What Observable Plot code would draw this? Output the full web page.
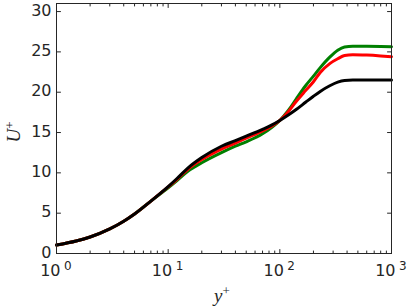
<!DOCTYPE html>
<html><head><meta charset="utf-8">
<script src="https://cdn.jsdelivr.net/npm/d3@7"></script>
<script src="https://cdn.jsdelivr.net/npm/@observablehq/plot@0.6"></script>
<style>
html,body{margin:0;padding:0;background:#fff;}
#chart{width:407px;height:307px;overflow:hidden;}
</style>
</head><body><div id="chart"></div>
<script>
const yPlus  = [1, 1.5, 2, 3, 4, 5, 7, 10, 12, 15, 20, 30, 40, 50, 70, 85, 100, 120, 140, 170, 200, 230, 280, 330, 380, 450, 600, 800, 1000];
const uBlack = [1.05, 1.55, 2.05, 3.05, 4.0, 4.9, 6.5, 8.3, 9.3, 10.6, 11.9, 13.3, 14.0, 14.55, 15.4, 15.95, 16.5, 17.2, 17.85, 18.75, 19.5, 20.1, 20.8, 21.25, 21.45, 21.5, 21.5, 21.5, 21.5];
const uRed   = [1.05, 1.55, 2.05, 3.05, 4.0, 4.9, 6.5, 8.25, 9.2, 10.45, 11.65, 12.95, 13.7, 14.3, 15.2, 15.8, 16.5, 17.65, 18.85, 20.2, 21.3, 22.45, 23.55, 24.15, 24.55, 24.65, 24.6, 24.5, 24.4];
const uGreen = [1.05, 1.55, 2.05, 3.05, 4.0, 4.9, 6.5, 8.15, 9.05, 10.2, 11.25, 12.5, 13.3, 13.85, 14.85, 15.65, 16.5, 17.8, 19.15, 20.8, 22.0, 23.05, 24.35, 25.2, 25.6, 25.7, 25.7, 25.68, 25.65];
const seriesNames  = ["green", "red", "black"];
const seriesColors = ["#008000", "#ff0000", "#000000"];
const seriesValues = [uGreen, uRed, uBlack];
const yTicks = [0, 5, 10, 15, 20, 25, 30];
const xMajor = [1, 10, 100, 1000];
const xExponents = ["0", "1", "2", "3"];
const xMinor = [2,3,4,5,6,7,8,9,20,30,40,50,60,70,80,90,200,300,400,500,600,700,800,900];

const rows = seriesNames.flatMap((name, s) => yPlus.map((x, i) => ({x, u: seriesValues[s][i], name})));
const axisColor = "#262626";
const tickShape = {draw(context, l) { context.moveTo(0, 0); context.lineTo(0, -l); }};
function ticks(data, channel, frameAnchor, rotate, length) {
  const o = {frameAnchor, rotate, length, anchor: "start", shape: tickShape, stroke: axisColor, strokeWidth: 1};
  o[channel] = d => d;
  return Plot.vector(data, o);
}

const chart = Plot.plot({
  width: 407, height: 307,
  marginLeft: 56, marginRight: 16, marginTop: 3, marginBottom: 54,
  style: {fontFamily: "DejaVu Sans", fontSize: "16px", color: axisColor, background: "#fff", overflow: "visible"},
  x: {type: "log", domain: [1, 1000], axis: null},
  y: {domain: [0, 31], axis: null},
  color: {domain: seriesNames, range: seriesColors},
  marks: [
    Plot.line(rows, {x: "x", y: "u", z: "name", stroke: "name", strokeWidth: 3, curve: "monotone-x"}),
    Plot.frame({stroke: axisColor, strokeWidth: 1}),
    ticks(yTicks, "y", "left", 90, 4),
    ticks(yTicks, "y", "right", -90, 4),
    ticks(xMajor, "x", "bottom", 0, 4),
    ticks(xMajor, "x", "top", 180, 4),
    ticks(xMinor, "x", "bottom", 0, 2.5),
    ticks(xMinor, "x", "top", 180, 2.5),
    Plot.text(yTicks, {y: d => d, frameAnchor: "left", text: d => String(d), textAnchor: "end", dx: -5, dy: -1, fill: axisColor}),
    Plot.text(xMajor, {x: d => d, frameAnchor: "bottom", text: () => "10", textAnchor: "end", dx: 4, dy: 22, fill: axisColor}),
    Plot.text(xMajor, {x: d => d, frameAnchor: "bottom", text: (d, i) => xExponents[i], textAnchor: "start", dx: 7.5, dy: 16, fontSize: 12, fill: axisColor})
  ]
});
document.getElementById("chart").appendChild(chart);

const svg = d3.select(chart);
const xl = svg.append("text").attr("x", 222).attr("y", 302).attr("text-anchor", "middle")
  .attr("fill", axisColor).style("font-family", "'Liberation Serif'").style("font-size", "19px");
xl.append("tspan").style("font-style", "italic").text("y");
xl.append("tspan").attr("dy", -7).style("font-size", "13px").text("+");
const yl = svg.append("text").attr("transform", "translate(20,132) rotate(-90)").attr("text-anchor", "middle")
  .attr("fill", axisColor).style("font-family", "'Liberation Serif'").style("font-size", "19px");
yl.append("tspan").style("font-style", "italic").text("U");
yl.append("tspan").attr("dy", -6).style("font-size", "13px").text("+");
</script>
</body></html>
